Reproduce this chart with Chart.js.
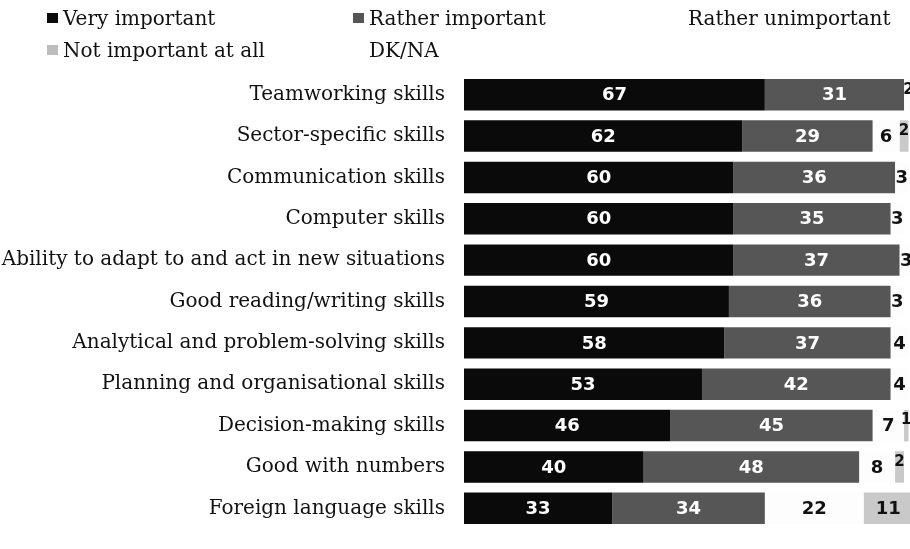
<!DOCTYPE html>
<html lang="en">
<head>
  <meta charset="UTF-8">
  <title>Skills importance</title>
  <script src="https://cdn.jsdelivr.net/npm/chart.js"></script>
  <style>
    body { margin: 0; background: #fff; }
    #wrap { width: 910px; height: 549px; overflow: hidden; position: relative; }
  </style>
</head>
<body>
  <div id="wrap">
    <canvas id="skillsChart" width="920" height="560"></canvas>
  </div>

  <script>
    const skills = [
      'Teamworking skills',
      'Sector-specific skills',
      'Communication skills',
      'Computer skills',
      'Ability to adapt to and act in new situations',
      'Good reading/writing skills',
      'Analytical and problem-solving skills',
      'Planning and organisational skills',
      'Decision-making skills',
      'Good with numbers',
      'Foreign language skills'
    ];

    const seriesNames = ['Very important', 'Rather important', 'Rather unimportant', 'Not important at all', 'DK/NA'];

    const veryImportant = [67, 62, 60, 60, 60, 59, 58, 53, 46, 40, 33];
    const ratherImportant = [31, 29, 36, 35, 37, 36, 37, 42, 45, 48, 34];
    const ratherUnimportant = [2, 6, 3, 3, 3, 3, 4, 4, 7, 8, 22];
    const notImportantAtAll = [0, 2, 0, 0, 0, 0, 0, 0, 1, 2, 11];
    const dkNa = [0, 0, 0, 0, 0, 0, 0, 0, 0, 0, 0];

    const colors = ['#0a0a0a', '#565656', '#fdfdfd', '#c9c9c9', '#ffffff'];
    const legendColors = ['#0a0a0a', '#555555', '#ffffff', '#bdbdbd', '#ffffff'];
    const labelColors = ['#ffffff', '#ffffff', '#111111', '#111111', '#111111'];

    const serif = '"DejaVu Serif", "Liberation Serif", serif';

    // value labels on each segment
    const valueLabels = {
      id: 'valueLabels',
      afterDatasetsDraw(chart) {
        const ctx = chart.ctx;
        ctx.save();
        ctx.textAlign = 'center';
        ctx.textBaseline = 'middle';
        chart.data.datasets.forEach((ds, i) => {
          const meta = chart.getDatasetMeta(i);
          meta.data.forEach((bar, j) => {
            const v = ds.data[j];
            if (!v) return;
            const cx = (bar.x + bar.base) / 2;
            let cy = bar.y + 1;
            if (v < 3) {
              ctx.font = 'bold 15px "DejaVu Sans", sans-serif';
              cy -= 6;
            } else {
              ctx.font = 'bold 18px "DejaVu Sans", sans-serif';
            }
            ctx.fillStyle = labelColors[i];
            ctx.fillText(String(v), cx, cy);
          });
        });
        ctx.restore();
      }
    };

    // legend laid out like the original: two rows, three columns
    const topLegend = {
      id: 'topLegend',
      afterDraw(chart) {
        const ctx = chart.ctx;
        const cols = [47, 353, 672];
        const rows = [25, 57];
        ctx.save();
        ctx.font = '20px ' + serif;
        ctx.textBaseline = 'alphabetic';
        ctx.textAlign = 'left';
        chart.data.datasets.forEach((ds, i) => {
          const x = cols[i % 3];
          const y = rows[Math.floor(i / 3)];
          ctx.fillStyle = legendColors[i];
          ctx.fillRect(x, y - 12, 11, 10);
          ctx.fillStyle = '#111';
          ctx.fillText(ds.label, x + 16, y);
        });
        ctx.restore();
      }
    };

    const values = [veryImportant, ratherImportant, ratherUnimportant, notImportantAtAll, dkNa];

    new Chart(document.getElementById('skillsChart'), {
      type: 'bar',
      data: {
        labels: skills,
        datasets: seriesNames.map((name, i) => ({
          label: name,
          data: values[i],
          backgroundColor: colors[i],
          borderWidth: 0,
          barPercentage: 0.76,
          categoryPercentage: 1
        }))
      },
      options: {
        indexAxis: 'y',
        responsive: false,
        animation: false,
        layout: { padding: { top: 74, bottom: 7, left: 0, right: 7 } },
        plugins: {
          legend: { display: false },
          tooltip: { enabled: false }
        },
        scales: {
          x: { stacked: true, min: 0, max: 100, display: false },
          y: {
            stacked: true,
            grid: { display: false, drawTicks: false },
            border: { display: false },
            ticks: {
              color: '#111',
              padding: 19,
              font: { family: serif, size: 20 }
            },
            afterFit(scale) { scale.width = 464; }
          }
        }
      },
      plugins: [valueLabels, topLegend]
    });
  </script>
</body>
</html>
